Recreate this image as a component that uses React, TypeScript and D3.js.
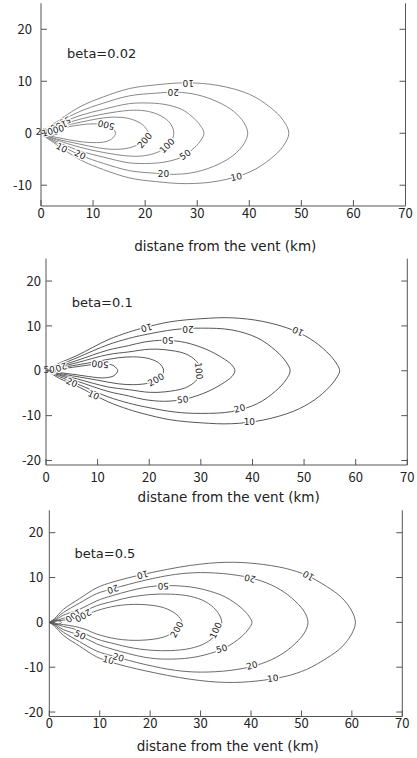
import React from 'react';
import * as d3 from 'd3';

type Pt = [number, number];
type Contour = { level: number; pts: Pt[] };
// text, x (km), y (km), rotation in degrees
type Lbl = [string, number, number, number];

const xTicks = [0, 10, 20, 30, 40, 50, 60, 70];
const yTicksTop = [-10, 0, 10, 20];
const yTicks = [-20, -10, 0, 10, 20];
const betaNames = ['beta=0.02', 'beta=0.1', 'beta=0.5'];
const xTitle = 'distane from the vent (km)';

// half-widths of each contour (x, w); contours are symmetric about y=0
const contours002: Contour[] = [
  { level: 10, pts: [[1, 0.8], [3, 2.2], [7.5, 5.1], [12, 7.0], [17, 8.6], [22, 9.3], [28, 9.7], [34, 9.2], [40, 7.5], [44, 5], [46.5, 2.5], [47.6, 0]] },
  { level: 20, pts: [[1, 0.7], [3, 1.9], [7.5, 4.2], [12, 5.8], [17, 7.2], [22, 7.7], [26, 7.9], [30, 7.4], [34, 6], [37, 4.2], [39, 2], [39.7, 0]] },
  { level: 50, pts: [[1, 0.6], [3, 1.6], [7.5, 3.4], [12, 4.6], [17, 5.7], [21, 5.8], [24, 5.5], [27, 4.6], [29, 3.2], [30.6, 1.5], [31.3, 0]] },
  { level: 100, pts: [[1, 0.5], [3, 1.3], [7.5, 2.7], [12, 3.7], [17, 4.4], [20, 4.3], [22.5, 3.6], [24.5, 2.3], [25.3, 1], [25.5, 0]] },
  { level: 200, pts: [[1, 0.4], [3, 1.1], [7.5, 2.1], [11, 2.8], [14, 3.1], [17, 2.8], [19.3, 1.8], [20.3, 0.7], [20.6, 0]] },
  { level: 500, pts: [[1, 0.3], [3, 0.8], [7.5, 1.6], [10, 1.8], [12.5, 1.6], [13.8, 0.9], [14.3, 0]] },
  { level: 1000, pts: [[0.6, 0.3], [1.6, 0.5], [2.6, 0.4], [3.1, 0]] },
  { level: 2000, pts: [[0.4, 0.2], [1, 0.3], [1.5, 0]] },
];

const contours01: Contour[] = [
  { level: 10, pts: [[1, 0.6], [2.6, 1.7], [6, 3.4], [12, 6.9], [16, 8.6], [19, 9.6], [24, 10.9], [30, 11.6], [36, 11.8], [42, 11], [48, 9], [52, 6.5], [55, 3.5], [56.5, 1.2], [56.9, 0]] },
  { level: 20, pts: [[1, 0.5], [2.6, 1.3], [6, 2.9], [12, 5.8], [16, 7.2], [19, 8.0], [25, 9.2], [30, 9.5], [36, 9.1], [41, 7.3], [44.5, 4.5], [46.5, 2], [47.3, 0]] },
  { level: 50, pts: [[1, 0.4], [2.6, 1.0], [6, 2.3], [12, 4.6], [16, 5.6], [19, 6.4], [23, 6.8], [27, 6.3], [31, 4.8], [34, 3], [36, 1.3], [36.6, 0]] },
  { level: 100, pts: [[1, 0.3], [2.6, 0.8], [6, 1.8], [12, 3.6], [16, 4.2], [20, 4.8], [23, 4.7], [27, 3.8], [29, 2.3], [29.8, 1], [30, 0]] },
  { level: 200, pts: [[1, 0.25], [2.6, 0.6], [6, 1.3], [10, 2.1], [14, 2.9], [17, 3.1], [20, 2.7], [22, 1.6], [22.8, 0]] },
  { level: 500, pts: [[1, 0.15], [2.6, 0.4], [6, 0.9], [9, 1.4], [11, 1.6], [13, 1.2], [13.7, 0.5], [13.9, 0]] },
];

const contours05: Contour[] = [
  { level: 10, pts: [[1, 0.8], [2.8, 2.9], [6, 5.3], [9.4, 7.7], [12.6, 9.0], [19, 10.8], [28, 12.7], [35, 13.4], [41, 13.1], [47, 12], [51, 10.5], [55, 8], [58, 5.5], [60, 2.5], [60.7, 0]] },
  { level: 20, pts: [[1, 0.6], [2.8, 2.2], [6, 4.3], [9.4, 6.4], [12.6, 7.5], [19, 9.4], [25, 10.7], [30, 11.1], [36, 10.7], [41, 9.6], [45, 7.8], [48, 5.5], [50.5, 2.5], [51.3, 0]] },
  { level: 50, pts: [[1, 0.4], [2.8, 1.6], [6, 2.9], [9.4, 4.8], [12.6, 6.0], [19, 7.8], [23, 8.2], [28, 7.9], [32, 6.9], [35, 5.6], [38, 3.3], [39.7, 1.2], [40.2, 0]] },
  { level: 100, pts: [[1, 0.3], [2.8, 0.9], [5, 1.5], [9.4, 3.7], [13, 4.8], [16, 5.6], [20, 6.2], [24, 6.3], [28, 5.8], [31, 4.6], [33, 2.8], [34, 1], [34.2, 0]] },
  { level: 200, pts: [[1, 0.2], [2.8, 0.5], [5, 0.9], [7, 1.5], [9.4, 2.6], [13.4, 3.7], [18, 4.0], [22.6, 3.3], [25.3, 1.7], [26.3, 0]] },
  { level: 500, pts: [[0.6, 0.3], [1.4, 0.5], [2.1, 0.3], [2.4, 0]] },
];

const labels002: Lbl[] = [
  ['10', 28.3, 9.6, 180], ['20', 25.4, 7.9, 180], ['500', 12.5, 1.6, 195],
  ['200', 19.9, -1.4, -50], ['100', 24.2, -2.4, -45], ['50', 27.7, -4.1, -35],
  ['20', 23.5, -7.8, 0], ['10', 37.5, -8.4, -12], ['10', 4.0, -2.8, 28], ['20', 7.5, -4.1, 25],
  ['50', 4.6, 2.3, 155], ['100', 3.4, 1.4, 160], ['2000', 1.2, 0.2, 0], ['1000', 2.3, 0.5, -15],
];

const labels01: Lbl[] = [
  ['10', 19.5, 9.6, 165], ['20', 27.5, 9.3, 180], ['50', 23.6, 6.8, 178], ['10', 48.8, 8.8, 205],
  ['500', 10.5, 1.5, 185], ['100', 29.6, 0, 85], ['200', 21.3, -2.0, -30], ['50', 26.5, -6.4, -5],
  ['20', 37.5, -8.4, -15], ['10', 39.4, -11.4, 0], ['20', 5.0, -2.6, 25], ['10', 9.2, -5.4, 25],
  ['200', 2.4, 0.6, 160], ['50', 0.6, 0.1, 0],
];

const labels05: Lbl[] = [
  ['10', 18.5, 10.6, 165], ['20', 12.6, 7.4, 160], ['50', 22.6, 8.1, 178], ['20', 39.8, 9.8, 195],
  ['10', 51.4, 10.4, 210], ['200', 25.3, -1.6, -60], ['100', 33.0, -1.8, -65], ['50', 34.2, -5.9, -15],
  ['20', 40.2, -9.6, -15], ['10', 44.3, -12.5, -8], ['50', 6.1, -2.8, 25], ['10', 11.7, -8.4, 15],
  ['20', 13.7, -7.8, 15], ['100', 4.8, 1.5, 145], ['200', 6.7, 1.5, 150],
];

// panel boxes in page pixels
const panels = [
  { contours: contours002, labels: labels002, yt: yTicksTop, yDom: [-14, 25], left: 41, right: 405.5, top: 3.3, bottom: 206, tickDy: 12, titleY: 251, stroke: '#7a7a7a', tickGap: 9 },
  { contours: contours01, labels: labels01, yt: yTicks, yDom: [-21, 25], left: 46, right: 407.3, top: 258.6, bottom: 465, tickDy: 17, titleY: 502, stroke: '#444', tickGap: 5 },
  { contours: contours05, labels: labels05, yt: yTicks, yDom: [-21, 25], left: 49.3, right: 402.3, top: 510.3, bottom: 716.5, tickDy: 11, titleY: 751, stroke: '#5a5a5a', tickGap: 6 },
];

const Panel = ({ p, beta }: { p: typeof panels[0]; beta: string }) => {
  const x = d3.scaleLinear().domain([0, 70]).range([p.left, p.right]);
  const y = d3.scaleLinear().domain(p.yDom).range([p.bottom, p.top]);
  const line = d3.line<Pt>()
    .x(d => x(d[0]))
    .y(d => y(d[1]))
    .curve(d3.curveCatmullRom.alpha(0.5));

  const tick = 6;
  const axisCol = '#555';
  return (
    <g>
      {p.contours.map(c => {
        const upper = c.pts;
        const lower = c.pts.slice(0, -1).reverse().map(([a, b]) => [a, -b] as Pt);
        const pts: Pt[] = [[0, 0], ...upper, ...lower, [0, 0]];
        return <path key={c.level} d={line(pts) ?? ''} fill="none" stroke={p.stroke} strokeWidth={0.9} />;
      })}
      {p.labels.map((l, i) => (
        <text key={i} transform={`translate(${x(l[1])},${y(l[2])}) rotate(${l[3]})`}
          textAnchor="middle" dy="0.35em" fontSize={9} fontFamily="DejaVu Sans, sans-serif"
          fill="#222" stroke="#fff" strokeWidth={2.5} paintOrder="stroke">{l[0]}</text>
      ))}
      {/* frame: left, right, bottom */}
      <line x1={x(0)} x2={x(0)} y1={y.range()[1]} y2={y.range()[0]} stroke={axisCol} />
      <line x1={x(70)} x2={x(70)} y1={y.range()[1]} y2={y.range()[0]} stroke={axisCol} />
      <line x1={x(0)} x2={x(70)} y1={y.range()[0]} y2={y.range()[0]} stroke={axisCol} />
      {p.yt.map(t => (
        <g key={'y' + t}>
          <line x1={x(0)} x2={x(0) + tick} y1={y(t)} y2={y(t)} stroke={axisCol} />
          <line x1={x(70)} x2={x(70) - tick} y1={y(t)} y2={y(t)} stroke={axisCol} />
          <text x={x(0) - p.tickGap} y={y(t)} dy="0.36em" textAnchor="end" fontSize={13}
            fontFamily="Noto Sans CJK JP, sans-serif" fill="#222">{t}</text>
        </g>
      ))}
      {xTicks.map(t => (
        <g key={'x' + t}>
          <line x1={x(t)} x2={x(t)} y1={p.bottom} y2={p.bottom - tick} stroke={axisCol} />
          <text x={x(t)} y={p.bottom + p.tickDy} textAnchor="middle" fontSize={13}
            fontFamily="Noto Sans CJK JP, sans-serif" fill="#222">{t}</text>
        </g>
      ))}
      <text x={(p.left + p.right) / 2 + 2} y={p.titleY} textAnchor="middle" fontSize={13.5}
        fontFamily="DejaVu Sans, sans-serif" fill="#222">{xTitle}</text>
      <text x={x(5)} y={y(15.3)} dy="0.35em" fontSize={13} fontFamily="DejaVu Sans, sans-serif" fill="#222">{beta}</text>
    </g>
  );
};

export default function App() {
  return (
    <svg width={417} height={758} style={{ position: 'absolute', left: 0, top: 0, background: '#fff' }}>
      <rect width={417} height={758} fill="#fff" />
      {panels.map((p, i) => <Panel key={i} p={p} beta={betaNames[i]} />)}
    </svg>
  );
}
